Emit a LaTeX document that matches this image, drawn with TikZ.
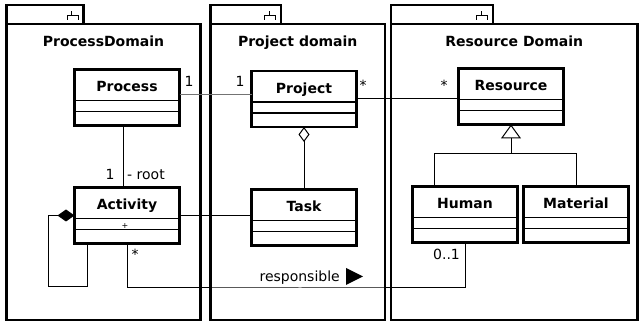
\documentclass[tikz,border=0pt]{standalone}
\usepackage{fontspec}
\setmainfont{DejaVu Sans}
\usetikzlibrary{arrows.meta,calc}

\tikzset{
  pkg/.style={draw, line width=2.2pt},
  pkgicon/.style={line width=1pt},
  pkgtitle/.style={font=\fontsize{14}{16}\selectfont\bfseries, anchor=base, inner sep=0pt},
  classbox/.style={draw, line width=2.2pt, minimum width=105pt, minimum height=56pt,
                   inner sep=0pt, outer sep=0pt, fill=white},
  divider/.style={line width=1.2pt},
  classname/.style={font=\fontsize{14}{16}\selectfont\bfseries, anchor=base, inner sep=0pt},
  lbl/.style={font=\fontsize{14}{16}\selectfont, anchor=base, inner sep=0pt},
  assoc/.style={line width=1pt},
  softassoc/.style={line width=1pt, draw=black!55},
}

% package: name, left x, tab right x, body right x, title
\newcommand\umlpackage[5]{%
  \draw[pkg] (#2,5) rectangle (#3,24);
  \draw[pkg] (#2,24) rectangle (#4,320);
  \draw[pkgicon] (#3-16.5,20) -- (#3-16.5,15.5) -- (#3-5.5,15.5) -- (#3-5.5,20)
                 (#3-12,15.5) -- (#3-12,11.5);
  \node[pkgtitle] (#1) at ({(#2+#4)/2},47) {#5};
}

% class: name, left x, top y, label
\newcommand\umlclass[4]{%
  \node[classbox, anchor=north west] (#1) at (#2,#3) {};
  \draw[divider] ([yshift=-31pt]#1.north west) -- ([yshift=-31pt]#1.north east);
  \draw[divider] ([yshift=-42pt]#1.north west) -- ([yshift=-42pt]#1.north east);
  \node[classname] (#1-name) at ([yshift=-22.5pt]#1.north) {#4};
}

\begin{document}
\begin{tikzpicture}[x=1pt, y=-1pt]
\useasboundingbox (0,0) rectangle (641,323);

% packages
\umlpackage{pkgprocess}{6.5}{83.5}{200.5}{ProcessDomain}
\umlpackage{pkgproject}{210.5}{281}{385}{Project domain}
\umlpackage{pkgresource}{391}{493}{637.5}{Resource Domain}

% classes
\umlclass{process}{74.5}{69.5}{Process}
\umlclass{project}{251.5}{71}{Project}
\umlclass{activity}{74.5}{187.5}{Activity}
\umlclass{task}{251.5}{189.5}{Task}
\umlclass{resource}{458.5}{68.5}{Resource}
\umlclass{human}{412.5}{186.5}{Human}
\umlclass{material}{523.5}{186.5}{Material}

% associations
\draw[softassoc] ([yshift=2.5pt]process.east) -- ([yshift=2.5pt]process.east -| project.west);
\draw[assoc] (project.east) -- (project.east -| resource.west);
\draw[assoc] ([xshift=-4pt]process.south) -- ([xshift=-4pt]process.south |- activity.north);
\draw[assoc] (activity.east) -- (activity.east -| task.west);

% aggregation Task -> Project
\draw[assoc, -{Diamond[open, length=15pt, width=11pt]}] (task.north) -- (project.south);

% generalization Human, Material -> Resource
\coordinate (genjoin) at (511,154);
\draw[assoc, -{Triangle[open, length=14pt, width=20pt]}] (genjoin) -- (resource.south);
\draw[assoc] ([xshift=-31pt]human.north |- genjoin) -- ([xshift=-31pt]human.north);
\draw[assoc] ([xshift=-31pt]human.north |- genjoin) -- (material.north |- genjoin) -- (material.north);

% composition Activity -> Activity
\coordinate (loopcorner) at (48,287);
\draw[assoc, {Diamond[length=17pt, width=12pt]}-]
  (activity.west) -| (loopcorner) -| ([xshift=12.5pt]activity.south west);

% responsible association Activity -> Human
\coordinate (respmid) at (300,288);
\draw[assoc] (activity.south) |- (respmid) -| (human.south);

% multiplicities and roles
\node[lbl] (m-process) at (189,87) {1};
\node[lbl] (m-projectl) at (240,87) {1};
\node[lbl] (m-projectr) at (363,91) {*};
\node[lbl] (m-resource) at (444,91) {*};
\node[lbl] (m-root) at (110,180) {1};
\node[lbl, anchor=base west] (r-root) at (127,180) {- root};
\node[lbl] (m-activity) at (135,260) {*};
\node[lbl] (m-human) at (446.5,260) {0..1};
\node[font=\fontsize{8}{9}\selectfont, inner sep=0pt] (m-self) at (125,225.5) {+};
\node[lbl, anchor=base east] (resplbl) at (340,282) {responsible};
\fill ([xshift=6pt,yshift=14pt]resplbl.base east) -- ++(17pt,-8.5pt) -- ++(-17pt,-8.5pt) -- cycle;

\end{tikzpicture}
\end{document}
